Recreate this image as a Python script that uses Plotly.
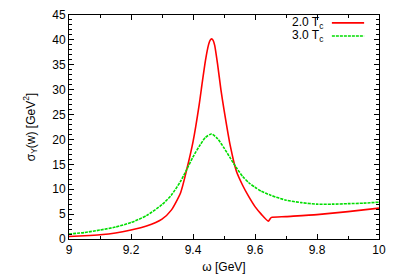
import plotly.graph_objects as go

# Data
omega_2tc = [9.0, 9.05, 9.1, 9.15, 9.2, 9.25, 9.3, 9.33, 9.36, 9.38, 9.4, 9.42, 9.43,
             9.44, 9.45, 9.455, 9.46, 9.465, 9.47, 9.48, 9.49, 9.5, 9.52, 9.54, 9.56,
             9.58, 9.6, 9.62, 9.643, 9.652, 9.7, 9.8, 9.9, 10.0]
sigma_2tc = [0.5, 0.65, 0.85, 1.2, 1.8, 2.6, 4.0, 5.8, 9.3, 14.0, 19.5, 27.0, 31.5,
             35.8, 39.0, 39.9, 40.2, 39.9, 38.9, 34.8, 30.0, 26.0, 18.8, 13.6, 10.8,
             8.5, 6.5, 5.0, 3.6, 4.3, 4.5, 4.9, 5.5, 6.2]

omega_3tc = [9.0, 9.05, 9.1, 9.15, 9.2, 9.25, 9.3, 9.33, 9.36, 9.38, 9.4, 9.42, 9.44,
             9.46, 9.48, 9.5, 9.52, 9.54, 9.56, 9.58, 9.6, 9.62, 9.65, 9.7, 9.75,
             9.8, 9.85, 9.9, 9.95, 10.0]
sigma_3tc = [1.0, 1.3, 1.8, 2.4, 3.3, 4.7, 6.9, 8.8, 11.6, 14.0, 16.5, 18.6, 20.4,
             21.1, 20.1, 18.3, 16.3, 14.3, 12.6, 11.3, 10.4, 9.6, 8.8, 7.8, 7.3,
             7.0, 7.0, 7.1, 7.2, 7.4]

labels = ["2.0 T<sub>c</sub>", "3.0 T<sub>c</sub>"]
colors = ["#ff0000", "#00dd00"]

FONT = "Liberation Sans, Arial, Helvetica, sans-serif"

fig = go.Figure()
fig.add_trace(go.Scatter(x=omega_2tc, y=sigma_2tc, mode="lines", name=labels[0],
                         line=dict(color=colors[0], width=1.6, shape="spline", smoothing=0.6),
                         showlegend=False))
fig.add_trace(go.Scatter(x=omega_3tc, y=sigma_3tc, mode="lines", name=labels[1],
                         line=dict(color=colors[1], width=1.6, dash="3px,1px",
                                   shape="spline", smoothing=0.6),
                         showlegend=False))

# manual gnuplot-style legend (text on left, sample on right)
rows = [0.965, 0.906]
for lab, col, yy, dash in zip(labels, colors, rows, ["solid", "3px,1px"]):
    fig.add_annotation(x=0.826, y=yy, xref="paper", yref="paper", text=lab,
                       showarrow=False, xanchor="right", yanchor="middle",
                       font=dict(family=FONT, size=12, color="black"))
    fig.add_shape(type="line", xref="paper", yref="paper", x0=0.848, x1=0.952,
                  y0=yy, y1=yy, line=dict(color=col, width=1.6, dash=dash))

axis_common = dict(showgrid=False, zeroline=False, showline=True, linecolor="black",
                   linewidth=1, mirror="allticks", ticks="inside", ticklen=5,
                   tickcolor="black", automargin=False,
                   tickfont=dict(family=FONT, size=12, color="black"))

fig.update_xaxes(range=[9, 10], tickvals=[9, 9.2, 9.4, 9.6, 9.8, 10],
                 ticktext=["9", "9.2", "9.4", "9.6", "9.8", "10"],
                 minor=dict(ticks="inside", dtick=0.1, ticklen=3, tickcolor="black"),
                 title=dict(text="ω [GeV]", font=dict(family=FONT, size=12, color="black"),
                            standoff=6),
                 **axis_common)
fig.update_yaxes(range=[0, 45], dtick=5, tick0=0,
                 minor=dict(ticks="inside", dtick=1, ticklen=3, tickcolor="black"),
                 title=dict(text="σ<sub>Υ</sub>(w) [GeV<sup>2</sup>]",
                            font=dict(family=FONT, size=12, color="black"), standoff=14),
                 **axis_common)

# page body has an 8px margin, so the figure is sized/offset to compensate
fig.update_layout(width=391, height=271, plot_bgcolor="white", paper_bgcolor="white",
                  margin=dict(l=61, r=20, t=7, b=40, pad=0),
                  font=dict(family=FONT, size=12, color="black"))

fig.write_html("out.html")
